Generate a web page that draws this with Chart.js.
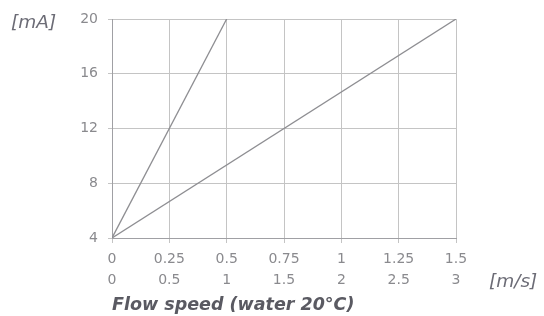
<!DOCTYPE html>
<html>
<head>
<meta charset="utf-8">
<script src="https://cdn.jsdelivr.net/npm/chart.js@4/dist/chart.umd.min.js"></script>
<style>
  html, body { margin: 0; padding: 0; background: #fff; }
  #wrap { width: 544px; height: 316px; position: relative; }
</style>
</head>
<body>
<div id="wrap"><canvas id="flowChart" width="544" height="316"></canvas></div>
<script>
// data
const speedTicks = [0, 0.25, 0.5, 0.75, 1, 1.25, 1.5];
const speedTicks2 = ['0', '0.5', '1', '1.5', '2', '2.5', '3'];
const currentTicks = [4, 8, 12, 16, 20];
const lineSteep = [{x: 0, y: 4}, {x: 0.5, y: 20}];
const lineFlat = [{x: 0, y: 4}, {x: 1.5, y: 20}];

const textGrey = '#8a8a8e';
const gridGrey = '#c4c4c4';
const lineGrey = '#8e8e92';
const fontFam = '"DejaVu Sans", sans-serif';

// extra labels: [mA] and [m/s]
const unitLabels = {
  id: 'unitLabels',
  afterDraw(chart) {
    const ctx = chart.ctx;
    const a = chart.chartArea;
    ctx.save();
    ctx.fillStyle = '#6c6c76';
    ctx.font = 'italic 18.5px ' + fontFam;
    ctx.textBaseline = 'middle';
    ctx.textAlign = 'left';
    ctx.fillText('[mA]', 11, a.top + 4);
    ctx.fillText('[m/s]', 489, a.bottom + 44);
    ctx.restore();
  }
};

new Chart(document.getElementById('flowChart'), {
  type: 'scatter',
  data: {
    datasets: [
      {data: lineSteep, showLine: true, borderColor: lineGrey, borderWidth: 1.3, pointRadius: 0},
      {data: lineFlat, showLine: true, borderColor: lineGrey, borderWidth: 1.3, pointRadius: 0}
    ]
  },
  options: {
    responsive: false,
    animation: false,
    layout: {padding: {left: 0, right: 88, top: 19, bottom: 0}},
    plugins: {legend: {display: false}, tooltip: {enabled: false}},
    scales: {
      x: {
        type: 'linear',
        min: 0, max: 1.5,
        afterBuildTicks: (s) => { s.ticks = speedTicks.map(v => ({value: v})); },
        ticks: {
          color: textGrey,
          font: {size: 14, family: fontFam, lineHeight: 1.5},
          maxRotation: 0,
          autoSkip: false,
          padding: 6,
          callback: (v, i) => [String(speedTicks[i]), speedTicks2[i]]
        },
        grid: {color: gridGrey, lineWidth: 1, tickLength: 5, tickColor: gridGrey},
        border: {color: '#a0a0a4'},
        title: {
          display: true,
          align: 'start',
          text: 'Flow speed (water 20°C)',
          color: '#5a5a62',
          font: {size: 17.5, style: 'italic', weight: 'bold', family: fontFam, lineHeight: 1.1},
          padding: {top: 0, bottom: 1}
        },
        afterFit: (s) => { s.height = 78; }
      },
      y: {
        type: 'linear',
        min: 4, max: 20,
        afterBuildTicks: (s) => { s.ticks = currentTicks.map(v => ({value: v})); },
        ticks: {
          color: textGrey,
          font: {size: 14, family: fontFam},
          autoSkip: false,
          padding: 10
        },
        grid: {color: gridGrey, lineWidth: 1, tickLength: 4, tickColor: gridGrey},
        border: {color: '#a0a0a4'},
        afterFit: (s) => { s.width = 112; }
      }
    }
  },
  plugins: [unitLabels]
});
</script>
</body>
</html>
